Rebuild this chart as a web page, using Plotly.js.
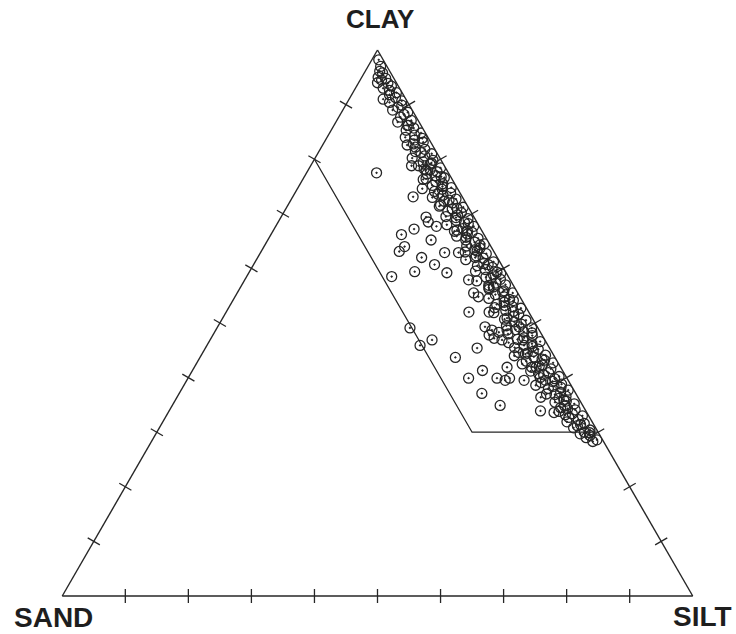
<!DOCTYPE html>
<html>
<head>
<meta charset="utf-8">
<script src="https://cdn.plot.ly/plotly-3.0.1.min.js"></script>
<style>html,body{margin:0;padding:0;background:#fff;}#chart{width:736px;height:634px;}</style>
</head>
<body>
<div id="chart"></div>
<script>
// Vertex labels
const vertexLabels = ["CLAY", "SAND", "SILT"];

// Tick values (percent) on each edge
const tickValues = [10, 20, 30, 40, 50, 60, 70, 80, 90];

// Boundary polygon (percent): clay, sand
const boundaryClay = [80, 30, 30];
const boundarySand = [20, 20, 0];

// Scattered samples away from the clay–silt edge (percent)
const scatterClay = [77.5, 91.0, 73.1, 71.4, 69.4, 68.5, 67.7, 67.2, 66.2, 64.0, 63.1, 66.8, 62.9, 62.0, 60.7, 59.4, 59.2, 58.5, 62.9, 57.9, 55.5, 54.8, 56.5, 52.0, 52.0, 52.8, 49.1, 45.9, 46.9, 43.7, 45.4, 49.3, 48.7, 48.3, 48.7, 47.2, 46.9, 47.8, 44.6, 41.3, 39.9, 39.9, 41.9, 39.9, 39.5, 39.5, 37.1, 34.9, 33.9, 40.0, 41.9, 78.2, 76.4, 86.2, 82.8, 65.2, 78.8, 74.6];
const scatterSand = [11.4, 3.6, 7.8, 4.5, 7.6, 7.7, 6.8, 10.6, 13.1, 13.7, 15.0, 4.4, 7.9, 12.0, 10.6, 14.4, 9.4, 18.5, 5.7, 6.6, 7.0, 6.6, 4.1, 9.5, 6.3, 5.0, 20.3, 20.3, 17.9, 15.8, 11.5, 8.3, 7.5, 6.6, 5.1, 7.9, 6.8, 8.4, 5.3, 12.7, 15.6, 11.1, 8.5, 9.1, 7.0, 10.0, 14.9, 13.1, 7.2, 4.2, 4.6, 3.5, 4.1, 2.2, 2.9, 8.9, 5.2, 5.6];

// Dense band of samples along the clay–silt edge (percent)
const bandClay = [98.2, 97.0, 96.1, 95.8, 95.0, 94.8, 94.5, 94.0, 93.9, 93.4, 93.0, 92.6, 92.2, 91.8, 91.3, 90.7, 90.4,
  89.9, 89.5, 89.0, 88.6, 88.2, 87.7, 87.1, 86.8, 86.2, 85.7, 85.3,
  84.8, 84.4, 84.0, 83.5, 83.1, 82.6, 82.2, 81.8, 81.4, 81.0, 80.6, 80.2,
  79.8, 79.5, 79.1, 78.8, 78.4, 78.1, 77.7, 77.3, 77.0, 76.6, 76.3, 75.9, 75.5, 75.2,
  74.8, 74.5, 74.1, 73.8, 73.4, 73.0, 72.7, 72.3, 72.0, 71.6, 71.2, 70.9, 70.5, 70.2,
  69.8, 69.5, 69.1, 68.8, 68.4, 68.0, 67.7, 67.3, 67.0, 66.6, 66.3, 65.9, 65.5, 65.2,
  64.8, 64.5, 64.1, 63.7, 63.4, 63.0, 62.7, 62.3, 61.9, 61.6, 61.2, 60.9, 60.5, 60.2,
  59.8, 59.5, 59.1, 58.8, 58.4, 58.0, 57.7, 57.3, 57.0, 56.6, 56.2, 55.9, 55.5, 55.2,
  54.8, 54.5, 54.1, 53.8, 53.4, 53.0, 52.7, 52.3, 51.9, 51.6, 51.2, 50.9, 50.5, 50.2,
  49.8, 49.5, 49.1, 48.8, 48.4, 48.0, 47.7, 47.3, 47.0, 46.6, 46.2, 45.9, 45.5, 45.2,
  44.8, 44.5, 44.1, 43.8, 43.4, 43.0, 42.7, 42.3, 41.9, 41.6, 41.2, 40.9, 40.5, 40.2,
  39.8, 39.5, 39.1, 38.8, 38.4, 38.0, 37.7, 37.3, 37.0, 36.6, 36.2, 35.9, 35.5, 35.2,
  34.8, 34.5, 34.1, 33.8, 33.4, 33.0, 32.7, 32.3, 31.9, 31.6, 31.2, 30.8, 30.4, 30.0, 29.7, 29.4, 29.0, 28.6, 28.3,
  83.8, 81.2, 79.3, 78.0, 76.8, 75.0, 73.6, 72.5, 71.0, 69.3, 68.2, 66.9, 65.7, 64.3, 63.2, 62.0,
  60.7, 59.3, 58.2, 56.9, 55.7, 54.3, 53.2, 52.1, 50.7, 49.3, 48.2, 46.9, 45.7, 44.3, 43.2, 42.1,
  40.7, 39.3, 38.2, 36.9, 35.7, 34.3, 33.2, 31.4, 29.9, 46.4, 42.5, 38.6, 44.0, 36.4, 33.6];
const bandSand = [0.7, 1.0, 1.6, 1.3, 2.4, 1.3, 2.1, 3.0, 1.4, 1.1, 2.6, 1.8, 0.9, 2.2, 1.5, 0.8, 2.9,
  1.2, 2.0, 3.1, 0.9, 1.7, 2.5, 1.1, 3.4, 2.0, 1.4, 2.8,
  0.7, 1.9, 3.6, 2.4, 1.2, 4.0, 2.9, 1.6, 3.3, 0.9, 2.2, 4.4,
  1.3, 3.0, 2.1, 4.1, 0.8, 2.6, 1.7, 3.5, 2.3, 1.1, 4.6, 2.8, 1.9, 3.7,
  0.9, 2.5, 3.9, 1.5, 2.9, 4.8, 1.2, 3.3, 2.1, 4.2, 0.8, 2.7, 3.6, 1.6,
  2.4, 4.4, 1.1, 3.1, 2.0, 5.0, 0.9, 2.8, 3.9, 1.7, 2.6, 4.5, 1.3, 3.4,
  2.2, 0.8, 3.8, 1.9, 2.9, 4.6, 1.4, 3.2, 2.3, 5.2, 1.0, 2.7, 3.9, 1.7,
  3.0, 4.7, 0.9, 2.2, 3.6, 1.5, 5.4, 2.6, 1.2, 3.3, 4.2, 2.0, 0.8, 3.7,
  2.5, 5.1, 1.4, 3.0, 4.4, 2.1, 0.9, 3.5, 5.6, 1.8, 2.8, 4.0, 1.2, 3.2,
  2.3, 4.8, 1.0, 3.7, 2.6, 5.3, 1.6, 3.1, 4.3, 0.9, 2.4, 3.8, 5.5, 1.9,
  2.9, 4.0, 1.3, 3.3, 2.2, 4.9, 0.8, 2.7, 3.9, 1.7, 5.1, 2.4, 3.4, 1.1,
  2.0, 3.6, 4.5, 1.4, 2.8, 3.9, 0.9, 2.3, 4.7, 1.8, 3.1, 2.5, 4.1, 1.2,
  2.9, 3.7, 1.6, 4.3, 2.4, 1.0, 3.3, 2.0, 4.0, 1.4, 2.7, 3.5, 1.1, 2.2, 3.0, 1.6, 2.4, 0.9, 1.7,
  1.0, 2.5, 1.8, 3.3, 1.5, 2.2, 3.6, 2.4, 1.9, 2.9, 1.5, 2.3, 3.1, 1.6, 2.6, 3.5,
  2.1, 1.4, 2.9, 3.9, 2.3, 1.9, 3.2, 2.4, 4.5, 2.9, 1.4, 3.5, 2.6, 4.4, 1.9, 3.3,
  4.1, 2.6, 1.8, 3.4, 2.2, 2.7, 3.6, 2.1, 1.4, 6.0, 5.8, 5.6, 6.3, 5.9, 5.2];

const ink = "#262626";
const markerStyle = {symbol: "circle-open-dot", size: 10, color: ink, line: {width: 1.3, color: ink}};

// Crossing tick marks, placed on each edge through the ternary scales
const zeros = tickValues.map(() => 0);
const comp = tickValues.map(t => 100 - t);
function tickTrace(a, b, c, angle) {
  return {type: "scatterternary", mode: "markers", a: a, b: b, c: c, cliponaxis: false,
    marker: {symbol: "line-ew", size: 10, angle: angle, color: ink, line: {width: 1.3, color: ink}},
    hoverinfo: "skip", showlegend: false};
}

const traces = [
  tickTrace(zeros, tickValues, comp, 90),      // bottom edge (SAND–SILT)
  tickTrace(tickValues, comp, zeros, 30),      // left edge (SAND–CLAY)
  tickTrace(tickValues, zeros, comp, -30),     // right edge (CLAY–SILT)
  {type: "scatterternary", mode: "lines", a: boundaryClay, b: boundarySand,
   c: boundaryClay.map((v, i) => 100 - v - boundarySand[i]),
   line: {color: ink, width: 1.3}, hoverinfo: "skip", showlegend: false},
  {type: "scatterternary", mode: "markers", a: bandClay, b: bandSand,
   c: bandClay.map((v, i) => 100 - v - bandSand[i]),
   marker: markerStyle, showlegend: false, name: "samples"},
  {type: "scatterternary", mode: "markers", a: scatterClay, b: scatterSand,
   c: scatterClay.map((v, i) => 100 - v - scatterSand[i]),
   marker: markerStyle, showlegend: false, name: "samples"}
];

function axis() {
  return {
    title: {text: ""}, showticklabels: false, showgrid: false,
    linecolor: ink, linewidth: 1.4, ticks: "", min: 0
  };
}

const fontFamily = "'Liberation Sans', Arial, sans-serif";
const labelFont = (s) => ({family: fontFamily, size: s, color: "#1e1e1e"});
const layout = {
  width: 736, height: 634,
  margin: {l: 62, r: 43, t: 50, b: 38},
  paper_bgcolor: "#ffffff",
  showlegend: false,
  ternary: {
    sum: 100, bgcolor: "#ffffff",
    domain: {x: [0, 1], y: [0, 1]},
    aaxis: axis(), baxis: axis(), caxis: axis()
  },
  annotations: [
    {text: "<b>" + vertexLabels[0] + "</b>", xref: "paper", yref: "paper", x: 0.504, y: 1.057,
     xanchor: "center", yanchor: "middle", showarrow: false, font: labelFont(26)},
    {text: "<b>" + vertexLabels[1] + "</b>", xref: "paper", yref: "paper", x: -0.013, y: -0.040,
     xanchor: "center", yanchor: "middle", showarrow: false, font: labelFont(28)},
    {text: "<b>" + vertexLabels[2] + "</b>", xref: "paper", yref: "paper", x: 1.015, y: -0.038,
     xanchor: "center", yanchor: "middle", showarrow: false, font: labelFont(28)}
  ]
};

Plotly.newPlot("chart", traces, layout, {staticPlot: true, displayModeBar: false});
</script>
</body>
</html>
